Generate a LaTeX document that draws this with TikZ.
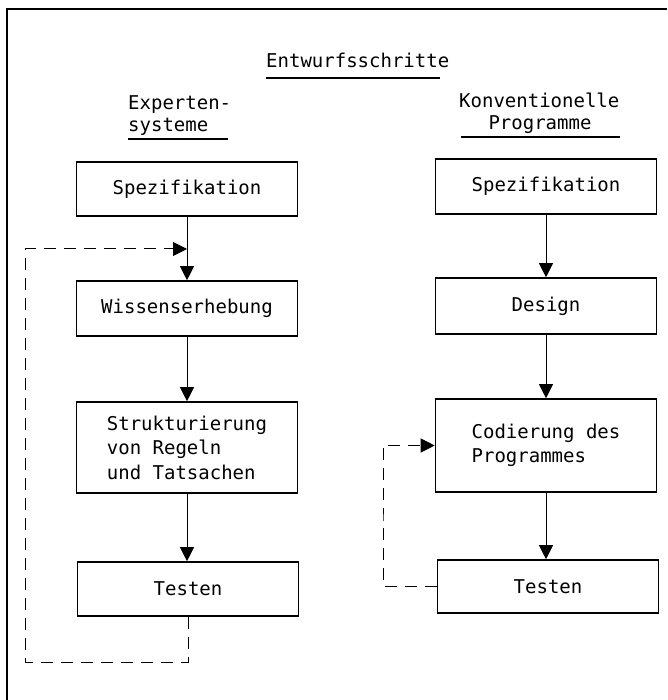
\documentclass[tikz,border=0pt]{standalone}
\usepackage{fontspec}
\setmainfont{DejaVu Sans Mono}
\usetikzlibrary{arrows.meta}

\tikzset{
  stepbox/.style={draw, line width=1.6pt, inner sep=0pt, minimum width=221pt,
    align=center, font=\fontsize{19}{24.5}\selectfont},
  flowarrow/.style={line width=1pt, -{Triangle[length=14pt,width=14pt]}},
  backloop/.style={line width=1pt, dash pattern=on 12pt off 8pt,
    -{Triangle[length=14pt,width=14pt]}},
  heading/.style={inner sep=0pt, font=\fontsize{19}{24}\selectfont},
  rule/.style={line width=1.2pt}
}

\begin{document}
\begin{tikzpicture}[x=1pt, y=-1pt]
  \useasboundingbox (0,0) rectangle (667,700);
  % sheet frame (top and left edges)
  \draw[line width=1.4pt] (7,700) -- (7,9) -- (667,9);

  % headings
  \node[heading, anchor=base west] (title) at (266,68) {Entwurfsschritte};
  \draw[rule] (266,78) -- (440,78);
  \node[heading, anchor=base west] (exA) at (128,110) {Experten-};
  \node[heading, anchor=base west] (exB) at (128,132) {systeme};
  \draw[rule] (128,139) -- (228,139);
  \node[heading, anchor=base west] (koA) at (459,108) {Konventionelle};
  \node[heading, anchor=base] (koB) at (540,130) {Programme};
  \draw[rule] (461,137) -- (620,137);

  % expert systems column
  \node[stepbox, minimum height=54pt] (spezL) at (187,189) {Spezifikation};
  \node[stepbox, minimum height=55pt] (wissL) at (187,308.5) {Wissenserhebung};
  \node[stepbox, minimum height=91pt, align=left] (strL) at (187,447.5)
    {Strukturierung\\von Regeln\\und Tatsachen};
  \node[stepbox, minimum height=54pt] (testL) at (188,589) {Testen};

  \draw[flowarrow] (spezL.south) -- (wissL.north);
  \draw[flowarrow] (wissL.south) -- (strL.north);
  \draw[flowarrow] (strL.south) -- (strL.south |- testL.north);

  \coordinate (cornerL) at (25,662);
  \coordinate (entryL) at (187,249);
  \draw[backloop] (testL.south) |- (cornerL) |- (entryL);

  % conventional programs column
  \node[stepbox, minimum height=55pt] (spezR) at (546,186.5) {Spezifikation};
  \node[stepbox, minimum height=56pt] (desR) at (546,306) {Design};
  \node[stepbox, minimum height=93pt, align=left] (codR) at (546,445.5)
    {Codierung des\\Programmes};
  \node[stepbox, minimum height=53pt] (testR) at (548,586.5) {Testen};

  \draw[flowarrow] (spezR.south) -- (desR.north);
  \draw[flowarrow] (desR.south) -- (codR.north);
  \draw[flowarrow] (codR.south) -- (codR.south |- testR.north);

  \coordinate (cornerR) at (383,520);
  \draw[backloop] (testR.west) -| (cornerR) |- (codR.west);
\end{tikzpicture}
\end{document}
